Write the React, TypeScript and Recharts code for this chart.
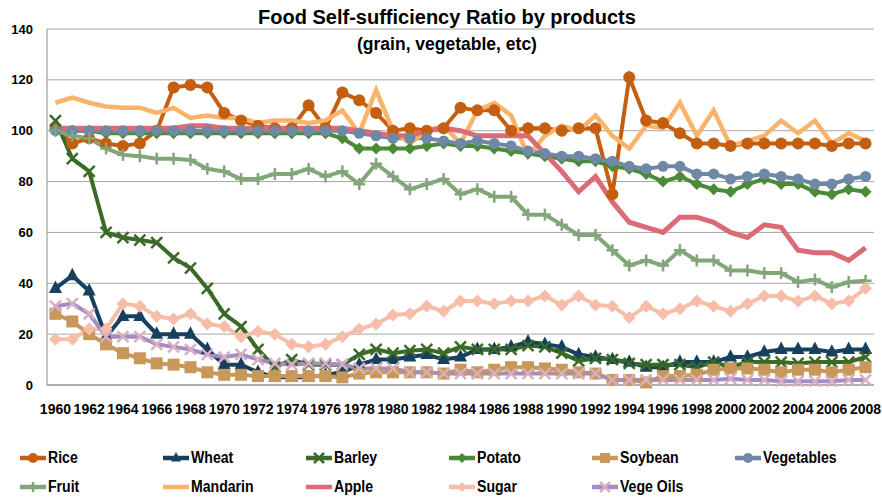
import React from "react";
import { LineChart, Line, XAxis, YAxis, CartesianGrid } from "recharts";

const years = [
  1960, 1961, 1962, 1963, 1964, 1965, 1966, 1967, 1968, 1969,
  1970, 1971, 1972, 1973, 1974, 1975, 1976, 1977, 1978, 1979,
  1980, 1981, 1982, 1983, 1984, 1985, 1986, 1987, 1988, 1989,
  1990, 1991, 1992, 1993, 1994, 1995, 1996, 1997, 1998, 1999,
  2000, 2001, 2002, 2003, 2004, 2005, 2006, 2007, 2008,
];
const yearTicks = [
  1960, 1962, 1964, 1966, 1968, 1970, 1972, 1974, 1976, 1978, 1980, 1982, 1984,
  1986, 1988, 1990, 1992, 1994, 1996, 1998, 2000, 2002, 2004, 2006, 2008,
];
const valueTicks = [0, 20, 40, 60, 80, 100, 120, 140];

const rice = [
  101, 95, 97, 95, 94, 95, 100, 117, 118, 117,
  107, 104, 102, 101, 101, 110, 101, 115, 112, 107,
  100, 101, 100, 101, 109, 108, 108, 100, 101, 101,
  100, 101, 101, 75, 121, 104, 103, 99, 95, 95,
  94, 95, 95, 95, 95, 95, 94, 95, 95,
];
const wheat = [
  38, 43, 37, 19, 27, 27, 20, 20, 20, 14,
  8, 8, 5, 3, 3, 3, 4, 5, 8, 10,
  10, 11, 12, 10, 11, 14, 14, 15, 17, 16,
  15, 12, 11, 10, 9, 7, 7, 9, 9, 9,
  11, 11, 13, 14, 14, 14, 13, 14, 14,
];
const barley = [
  104, 89, 84, 60, 58, 57, 56, 50, 46, 38,
  28, 23, 14, 7, 10, 8, 8, 8, 12, 14,
  12.5, 13.5, 14, 12.5, 15, 14, 14, 14, 15.5, 15,
  12.5, 9.5, 10.5, 10, 8.5, 8, 8, 8, 7, 9,
  7, 9, 9, 9, 8.5, 9, 9, 9, 11,
];
const potato = [
  100, 100, 100, 99, 99, 99, 99, 99, 99, 99,
  99, 99, 99, 99, 99, 99, 99, 97, 93, 93,
  93, 93, 94, 95, 94, 94, 93, 92, 91, 90,
  89, 88, 88, 86, 85, 83, 80, 82, 79, 77,
  76, 79, 81, 79, 79, 76, 75, 77, 76,
];
const soybean = [
  28, 25, 20, 16, 12.5, 10.5, 8.5, 8, 7, 5,
  4, 4, 3.5, 3.5, 3.5, 3.5, 3.5, 3, 4.5, 5,
  5, 5, 5, 4.5, 6, 5, 6, 7, 7, 6.5,
  6, 5, 4.5, 2, 2, 1, 3.5, 3.5, 4, 6,
  6.5, 6.5, 6, 5, 6, 6, 5, 6, 7,
];
const vegetables = [
  100, 100, 100, 100, 100, 100, 100, 100, 100, 100,
  100, 100, 100, 100, 100, 100, 100, 100, 99, 98,
  97, 97, 97, 96, 95, 96, 95, 94, 92, 91,
  90, 90, 89, 88, 86, 85, 86, 86, 83, 83,
  81, 82, 83, 82, 81, 79, 79, 81, 82,
];
const fruit = [
  100, 98, 97, 93, 90.5, 90, 89, 89, 88.5, 85,
  84, 81, 81, 83, 83, 85, 82, 84, 79, 87,
  82, 77, 79, 81, 75, 77, 74, 74, 67, 67,
  63, 59, 59, 53, 47, 49, 47, 53, 49, 49,
  45, 45, 44, 44, 40.5, 41.5, 38.5, 40.5, 41,
];
const mandarin = [
  111, 113, 111, 109.5, 109, 109, 107, 109, 105, 106,
  105, 105, 103, 104, 104, 103, 104, 108, 99, 116,
  100, 95, 100, 102, 95, 108, 111, 106, 90, 98,
  102, 100, 106, 98, 93, 102, 101, 111, 98, 108,
  94, 96, 98, 104, 99, 104, 95, 99, 96,
];
const apple = [
  101, 101, 101, 101, 101, 101, 101, 101, 102, 102,
  101, 101, 101, 101, 101, 101, 101, 101, 100, 99,
  98, 98, 100, 101, 100, 98, 98, 98, 98, 91,
  84, 76, 82, 72, 64, 62, 60, 66, 66, 64,
  60, 58, 63, 62, 53, 52, 52, 49, 54,
];
const sugar = [
  18, 18, 22, 22, 32, 31, 27, 26, 28, 24,
  23, 19, 21, 20, 16, 15, 16, 19, 22, 24,
  27.5, 28, 31, 29, 33, 33, 32, 33, 33, 35,
  31.5, 35, 31.5, 31, 26.5, 31, 28, 30, 33, 31,
  29, 32, 35, 35, 33, 35, 32, 33, 38,
];
const vegeOils = [
  31, 32, 28, 19, 19, 19, 16, 15, 14, 12,
  11, 12, 10, 8.5, 8, 8.5, 8.5, 8, 6.5, 6.5,
  6.5, 5, 5, 4.5, 4.5, 4.5, 4.5, 4.5, 4.5, 4.5,
  4.5, 4.5, 4.5, 2, 2, 2, 2, 2, 2, 2,
  2.5, 2, 2, 1.5, 1.5, 1.5, 1.5, 2, 2,
];

const data = years.map((year, i) => ({
  year,
  rice: rice[i],
  wheat: wheat[i],
  barley: barley[i],
  potato: potato[i],
  soybean: soybean[i],
  vegetables: vegetables[i],
  fruit: fruit[i],
  mandarin: mandarin[i],
  apple: apple[i],
  sugar: sugar[i],
  vegeOils: vegeOils[i],
}));

type Shape = "circle" | "triangle" | "x" | "diamond" | "square" | "plus" | "none";

interface SeriesStyle {
  key: string;
  name: string;
  color: string;
  markerColor?: string;
  shape: Shape;
  size: number;
  width: number;
}

const series: SeriesStyle[] = [
  { key: "rice", name: "Rice", color: "#C55F10", shape: "circle", size: 6, width: 4 },
  { key: "wheat", name: "Wheat", color: "#17405F", shape: "triangle", size: 6.5, width: 4 },
  { key: "barley", name: "Barley", color: "#3B6A27", shape: "x", size: 5.5, width: 4 },
  { key: "potato", name: "Potato", color: "#4B8A36", shape: "diamond", size: 6, width: 4 },
  { key: "soybean", name: "Soybean", color: "#C8985A", shape: "square", size: 6, width: 4 },
  { key: "vegetables", name: "Vegetables", color: "#6F88A6", shape: "circle", size: 5.5, width: 4 },
  { key: "fruit", name: "Fruit", color: "#82A67A", shape: "plus", size: 6, width: 4 },
  { key: "mandarin", name: "Mandarin", color: "#F9B36A", shape: "none", size: 0, width: 4.5 },
  { key: "apple", name: "Apple", color: "#DB6B77", shape: "none", size: 0, width: 5 },
  { key: "sugar", name: "Sugar", color: "#F6BEA9", shape: "diamond", size: 6.5, width: 4 },
  { key: "vegeOils", name: "Vege Oils", color: "#A58CC5", markerColor: "#D7AFC2", shape: "x", size: 5.5, width: 4 },
];

function Marker({ cx, cy, shape, color, size }: { cx: number; cy: number; shape: Shape; color: string; size: number }) {
  const s = size;
  switch (shape) {
    case "circle":
      return <circle cx={cx} cy={cy} r={s} fill={color} />;
    case "triangle":
      return (
        <polygon
          points={`${cx},${cy - s * 1.2} ${cx - s},${cy + s * 0.7} ${cx + s},${cy + s * 0.7}`}
          fill={color}
        />
      );
    case "diamond":
      return <polygon points={`${cx},${cy - s} ${cx + s},${cy} ${cx},${cy + s} ${cx - s},${cy}`} fill={color} />;
    case "square":
      return <rect x={cx - s} y={cy - s} width={s * 2} height={s * 2} fill={color} />;
    case "x":
      return (
        <g stroke={color} strokeWidth={2.5}>
          <line x1={cx - s} y1={cy - s} x2={cx + s} y2={cy + s} />
          <line x1={cx - s} y1={cy + s} x2={cx + s} y2={cy - s} />
        </g>
      );
    case "plus":
      return (
        <g stroke={color} strokeWidth={2.5}>
          <line x1={cx - s} y1={cy} x2={cx + s} y2={cy} />
          <line x1={cx} y1={cy - s} x2={cx} y2={cy + s} />
        </g>
      );
    default:
      return null;
  }
}

function dotFor(s: SeriesStyle) {
  if (s.shape === "none") return false;
  return (p: any) => (
    <g key={`${s.key}-${p.index}`}>
      <Marker cx={p.cx} cy={p.cy} shape={s.shape} color={s.markerColor || s.color} size={s.size} />
    </g>
  );
}

const legendCols = [20, 163, 306, 449, 592, 735];
const legendRows = [458, 487];

function LegendBox() {
  return (
    <>
      {series.map((s, i) => {
        const col = i % 6;
        const row = Math.floor(i / 6);
        return (
          <div
            key={s.key}
            style={{
              position: "absolute",
              left: legendCols[col],
              top: legendRows[row] - 10,
              height: 20,
              display: "flex",
              alignItems: "center",
              whiteSpace: "nowrap",
            }}
          >
            <svg width={28} height={20}>
              <line x1={0} y1={10} x2={26} y2={10} stroke={s.color} strokeWidth={4.5} />
              {s.shape !== "none" && (
                <Marker cx={13} cy={10} shape={s.shape} color={s.markerColor || s.color} size={Math.min(s.size, 5)} />
              )}
            </svg>
            <span
              style={{
                display: "inline-block",
                fontFamily: "'Liberation Sans', Arial, sans-serif",
                fontWeight: 700,
                fontSize: 16,
                color: "#000",
                transform: "scaleX(0.88)",
                transformOrigin: "left center",
              }}
            >
              {s.name}
            </span>
          </div>
        );
      })}
    </>
  );
}

const axisFont = { fontFamily: "'Liberation Sans', Arial, sans-serif", fontWeight: 700, fill: "#000" };

export default function App() {
  return (
    <div style={{ position: "absolute", left: 0, top: 0, width: 882, height: 502, background: "#fff" }}>
      <LineChart width={882} height={502} data={data} margin={{ top: 29, right: 8, bottom: 87, left: 0 }}>
        <CartesianGrid vertical={false} stroke="#A6A6A6" strokeWidth={1} />
        <XAxis
          dataKey="year"
          type="number"
          domain={[1959.5, 2008.5]}
          ticks={yearTicks}
          interval={0}
          tickLine={false}
          tickSize={0}
          tickMargin={19}
          height={30}
          axisLine={{ stroke: "#8C8C8C" }}
          tick={{ ...axisFont, fontSize: 14 }}
        />
        <YAxis
          type="number"
          domain={[0, 140]}
          ticks={valueTicks}
          interval={0}
          tickLine={false}
          tickSize={0}
          tickMargin={14}
          width={47}
          axisLine={{ stroke: "#8C8C8C" }}
          tick={{ ...axisFont, fontSize: 13 }}
        />
        {series.map((s) => (
          <Line
            key={s.key}
            dataKey={s.key}
            name={s.name}
            type="linear"
            stroke={s.color}
            strokeWidth={s.width}
            dot={dotFor(s)}
            activeDot={false}
            isAnimationActive={false}
          />
        ))}
      </LineChart>
      <div
        style={{
          position: "absolute",
          left: 0,
          width: 894,
          top: 7,
          textAlign: "center",
          fontFamily: "'Liberation Sans', Arial, sans-serif",
          fontWeight: 700,
          fontSize: 20,
          lineHeight: "20px",
        }}
      >
        Food Self-sufficiency Ratio by products
      </div>
      <div
        style={{
          position: "absolute",
          left: 0,
          width: 894,
          top: 36,
          textAlign: "center",
          fontFamily: "'Liberation Sans', Arial, sans-serif",
          fontWeight: 700,
          fontSize: 17.5,
          lineHeight: "17.5px",
        }}
      >
        (grain, vegetable, etc)
      </div>
      <LegendBox />
    </div>
  );
}
